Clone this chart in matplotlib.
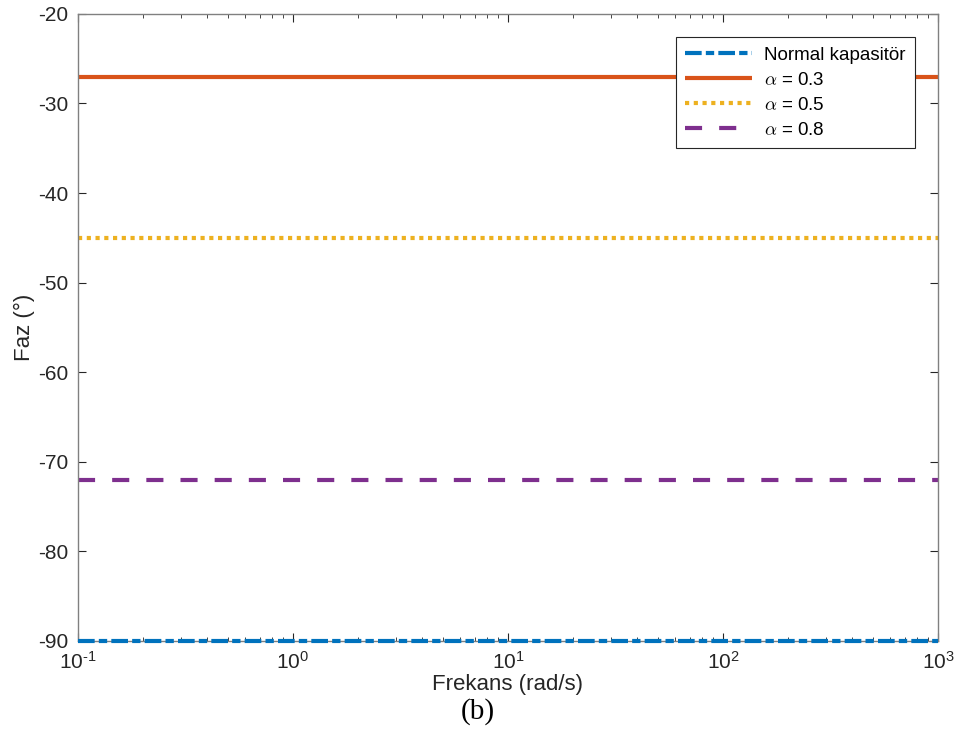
import matplotlib
matplotlib.use("Agg")
from matplotlib import pyplot as plt
from matplotlib.ticker import FixedLocator, FuncFormatter
import numpy as np

plt.rcParams['font.family'] = ['Liberation Sans', 'DejaVu Sans']
plt.rcParams['mathtext.fontset'] = 'cm'
plt.rcParams['axes.unicode_minus'] = False
plt.rcParams['lines.solid_capstyle'] = 'butt'
plt.rcParams['lines.dash_capstyle'] = 'butt'

freq = [0.1, 1000]
faz_normal = [-90, -90]
faz_03 = [-27, -27]
faz_05 = [-45, -45]
faz_08 = [-72, -72]

labels = ["Normal kapasitör", r"$\alpha$ = 0.3", r"$\alpha$ = 0.5", r"$\alpha$ = 0.8"]
yticks = [-90, -80, -70, -60, -50, -40, -30, -20]
xticks = [0.1, 1, 10, 100, 1000]


def dec_label(v, p):
    e = int(round(np.log10(v)))
    s = str(e).replace("-", "\u2010")
    return r"$\mathregular{10^{%s}}$" % s


fig = plt.figure(figsize=(9.58, 7.51), dpi=100)
ax = fig.add_axes([0.0814, 0.1465, 0.8977, 0.835])

ax.plot(freq, faz_normal, color="#0072BD", lw=3, ls=(0, (4, 1, 2, 1)), label=labels[0],
        zorder=4, clip_on=False)
ax.plot(freq, faz_03, color="#D95319", lw=3, ls="-", label=labels[1], clip_on=False)
ax.plot(freq, faz_05, color="#EDB120", lw=3, ls=(0, (1, 1.1)), label=labels[2], clip_on=False)
ax.plot(freq, faz_08, color="#7E2F8E", lw=3, ls=(0, (4.1, 4.1)), label=labels[3], clip_on=False)

ax.set_xscale("log")
ax.set_xlim(0.1, 1000)
ax.set_ylim(-90, -20)
ax.set_yticks(yticks)
ax.set_yticklabels([str(t) for t in yticks])
ax.xaxis.set_major_locator(FixedLocator(xticks))
ax.xaxis.set_major_formatter(FuncFormatter(dec_label))

ax.tick_params(which="both", direction="in", top=True, right=True, colors="#262626",
               labelsize=15, pad=7)
ax.tick_params(which="major", length=6)
ax.tick_params(which="minor", length=3)
for s in ax.spines.values():
    s.set_color("#808080")
    s.set_linewidth(1)

ax.set_xlabel("Frekans (rad/s)", fontsize=16, color="#262626", labelpad=1)
ax.set_ylabel("Faz (°)", fontsize=16, color="#262626", labelpad=2)

leg = ax.legend(loc="upper right", fontsize=13.5, frameon=True, fancybox=False,
                framealpha=1, edgecolor="#262626", handlelength=3.6, borderaxespad=1.25,
                labelspacing=0.42, handletextpad=0.6, borderpad=0.5)
leg.get_frame().set_linewidth(0.8)

fig.text(0.499, 0.052, "(b)", fontsize=21, family="Liberation Serif", ha="center", va="center")

fig.savefig("out.png", dpi=100)
